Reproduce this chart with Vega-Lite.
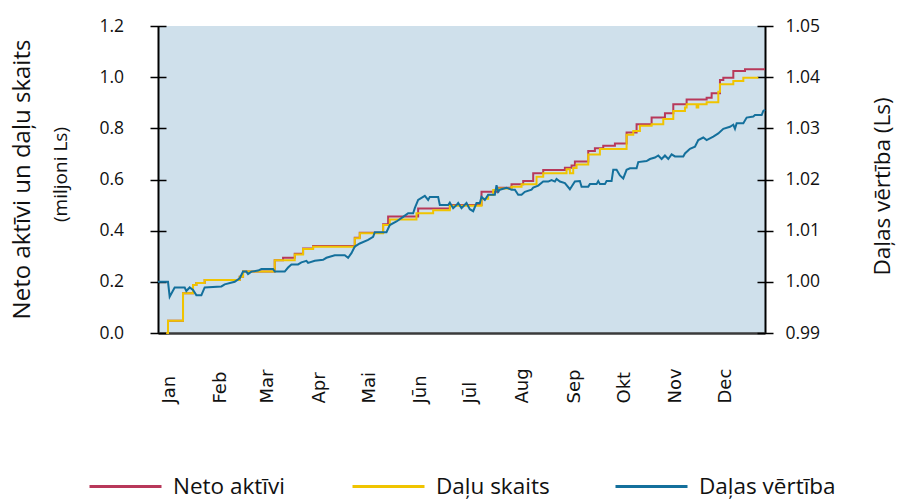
{
  "$schema": "https://vega.github.io/schema/vega-lite/v6.json",
  "width": 607,
  "height": 307,
  "autosize": {"type": "none"},
  "padding": {"left": 158, "top": 26, "right": 138, "bottom": 168},
  "background": "white",
  "config": {
    "view": {"fill": "#cfe0eb", "stroke": null},
    "font": "Open Sans",
    "axis": {"labelColor": "#111111", "titleColor": "#111111", "tickColor": "#000000", "domainColor": "#000000", "grid": false, "titleFontWeight": "normal"},
    "legend": {"labelFont": "Open Sans", "labelColor": "#111111"}
  },
  "datasets": {
    "neto": [
      {"date": "2009-01-06", "value": 0},
      {"date": "2009-01-07", "value": 0.048},
      {"date": "2009-01-16", "value": 0.155},
      {"date": "2009-01-22", "value": 0.188},
      {"date": "2009-01-24", "value": 0.195},
      {"date": "2009-01-29", "value": 0.207},
      {"date": "2009-02-19", "value": 0.22},
      {"date": "2009-02-21", "value": 0.24},
      {"date": "2009-03-12", "value": 0.284},
      {"date": "2009-03-17", "value": 0.294},
      {"date": "2009-03-24", "value": 0.31},
      {"date": "2009-03-29", "value": 0.33},
      {"date": "2009-04-04", "value": 0.34},
      {"date": "2009-04-29", "value": 0.372},
      {"date": "2009-05-02", "value": 0.392},
      {"date": "2009-05-16", "value": 0.425},
      {"date": "2009-05-19", "value": 0.455},
      {"date": "2009-06-06", "value": 0.487},
      {"date": "2009-06-25", "value": 0.5},
      {"date": "2009-07-14", "value": 0.552},
      {"date": "2009-07-24", "value": 0.568},
      {"date": "2009-08-01", "value": 0.581},
      {"date": "2009-08-08", "value": 0.594},
      {"date": "2009-08-14", "value": 0.624},
      {"date": "2009-08-20", "value": 0.637},
      {"date": "2009-09-02", "value": 0.646},
      {"date": "2009-09-06", "value": 0.655},
      {"date": "2009-09-08", "value": 0.67},
      {"date": "2009-09-16", "value": 0.711},
      {"date": "2009-09-20", "value": 0.722},
      {"date": "2009-09-25", "value": 0.732},
      {"date": "2009-10-02", "value": 0.741},
      {"date": "2009-10-09", "value": 0.784},
      {"date": "2009-10-15", "value": 0.816},
      {"date": "2009-10-24", "value": 0.842},
      {"date": "2009-11-01", "value": 0.859},
      {"date": "2009-11-06", "value": 0.894},
      {"date": "2009-11-14", "value": 0.913},
      {"date": "2009-11-26", "value": 0.92},
      {"date": "2009-11-29", "value": 0.937},
      {"date": "2009-12-04", "value": 0.989},
      {"date": "2009-12-06", "value": 0.998},
      {"date": "2009-12-12", "value": 1.024},
      {"date": "2009-12-19", "value": 1.031},
      {"date": "2009-12-31", "value": 1.031}
    ],
    "dalu": [
      {"date": "2009-01-06", "value": 0},
      {"date": "2009-01-07", "value": 0.048},
      {"date": "2009-01-16", "value": 0.155},
      {"date": "2009-01-22", "value": 0.188},
      {"date": "2009-01-24", "value": 0.195},
      {"date": "2009-01-29", "value": 0.207},
      {"date": "2009-02-19", "value": 0.22},
      {"date": "2009-02-21", "value": 0.24},
      {"date": "2009-03-12", "value": 0.284},
      {"date": "2009-03-24", "value": 0.307},
      {"date": "2009-03-29", "value": 0.328},
      {"date": "2009-04-04", "value": 0.337},
      {"date": "2009-04-29", "value": 0.37},
      {"date": "2009-05-02", "value": 0.39},
      {"date": "2009-05-16", "value": 0.422},
      {"date": "2009-05-20", "value": 0.444},
      {"date": "2009-06-05", "value": 0.468},
      {"date": "2009-06-15", "value": 0.48},
      {"date": "2009-06-25", "value": 0.497},
      {"date": "2009-07-14", "value": 0.525},
      {"date": "2009-07-18", "value": 0.539},
      {"date": "2009-07-21", "value": 0.559},
      {"date": "2009-07-24", "value": 0.565},
      {"date": "2009-08-01", "value": 0.572},
      {"date": "2009-08-07", "value": 0.581},
      {"date": "2009-08-16", "value": 0.611},
      {"date": "2009-08-20", "value": 0.624},
      {"date": "2009-09-03", "value": 0.64},
      {"date": "2009-09-05", "value": 0.624},
      {"date": "2009-09-07", "value": 0.645},
      {"date": "2009-09-09", "value": 0.659},
      {"date": "2009-09-16", "value": 0.698},
      {"date": "2009-09-23", "value": 0.719},
      {"date": "2009-10-09", "value": 0.775},
      {"date": "2009-10-13", "value": 0.79},
      {"date": "2009-10-17", "value": 0.81},
      {"date": "2009-10-24", "value": 0.816},
      {"date": "2009-10-31", "value": 0.836},
      {"date": "2009-11-06", "value": 0.868},
      {"date": "2009-11-13", "value": 0.881},
      {"date": "2009-11-14", "value": 0.894},
      {"date": "2009-11-20", "value": 0.881},
      {"date": "2009-11-21", "value": 0.894},
      {"date": "2009-11-26", "value": 0.902},
      {"date": "2009-12-03", "value": 0.943},
      {"date": "2009-12-04", "value": 0.972},
      {"date": "2009-12-12", "value": 0.985},
      {"date": "2009-12-18", "value": 0.998},
      {"date": "2009-12-27", "value": 0.998}
    ],
    "vertiba": [
      {"date": "2009-01-01", "value": 1.0},
      {"date": "2009-01-07", "value": 1.0},
      {"date": "2009-01-08", "value": 0.9971},
      {"date": "2009-01-11", "value": 0.9989},
      {"date": "2009-01-17", "value": 0.9989},
      {"date": "2009-01-18", "value": 0.9982},
      {"date": "2009-01-20", "value": 0.9989},
      {"date": "2009-01-22", "value": 0.9984},
      {"date": "2009-01-24", "value": 0.9974},
      {"date": "2009-01-27", "value": 0.9974},
      {"date": "2009-01-29", "value": 0.9989},
      {"date": "2009-02-08", "value": 0.9991},
      {"date": "2009-02-10", "value": 0.9995},
      {"date": "2009-02-16", "value": 1.0},
      {"date": "2009-02-19", "value": 1.0007},
      {"date": "2009-02-21", "value": 1.002},
      {"date": "2009-02-23", "value": 1.002},
      {"date": "2009-02-24", "value": 1.0015},
      {"date": "2009-02-26", "value": 1.002},
      {"date": "2009-03-02", "value": 1.0022},
      {"date": "2009-03-04", "value": 1.0025},
      {"date": "2009-03-11", "value": 1.0025},
      {"date": "2009-03-12", "value": 1.002},
      {"date": "2009-03-18", "value": 1.002},
      {"date": "2009-03-20", "value": 1.0028},
      {"date": "2009-03-22", "value": 1.0034},
      {"date": "2009-03-26", "value": 1.0034},
      {"date": "2009-03-28", "value": 1.0038},
      {"date": "2009-03-31", "value": 1.0041},
      {"date": "2009-04-01", "value": 1.0037},
      {"date": "2009-04-05", "value": 1.0041},
      {"date": "2009-04-10", "value": 1.0043},
      {"date": "2009-04-12", "value": 1.0047},
      {"date": "2009-04-17", "value": 1.0052},
      {"date": "2009-04-23", "value": 1.0052},
      {"date": "2009-04-25", "value": 1.0047},
      {"date": "2009-04-27", "value": 1.0056},
      {"date": "2009-04-29", "value": 1.0069},
      {"date": "2009-05-02", "value": 1.0075},
      {"date": "2009-05-07", "value": 1.0082},
      {"date": "2009-05-10", "value": 1.0088},
      {"date": "2009-05-11", "value": 1.0097},
      {"date": "2009-05-18", "value": 1.0097},
      {"date": "2009-05-20", "value": 1.0111},
      {"date": "2009-05-24", "value": 1.0118},
      {"date": "2009-05-28", "value": 1.0127},
      {"date": "2009-05-31", "value": 1.0134},
      {"date": "2009-06-03", "value": 1.0134},
      {"date": "2009-06-04", "value": 1.0144},
      {"date": "2009-06-06", "value": 1.016},
      {"date": "2009-06-10", "value": 1.0168},
      {"date": "2009-06-12", "value": 1.016},
      {"date": "2009-06-13", "value": 1.0166},
      {"date": "2009-06-18", "value": 1.0166},
      {"date": "2009-06-19", "value": 1.015},
      {"date": "2009-06-24", "value": 1.015},
      {"date": "2009-06-25", "value": 1.0155},
      {"date": "2009-06-27", "value": 1.0144},
      {"date": "2009-06-29", "value": 1.015},
      {"date": "2009-06-30", "value": 1.0154},
      {"date": "2009-07-02", "value": 1.0144},
      {"date": "2009-07-05", "value": 1.0154},
      {"date": "2009-07-07", "value": 1.0142},
      {"date": "2009-07-09", "value": 1.0138},
      {"date": "2009-07-11", "value": 1.0154},
      {"date": "2009-07-13", "value": 1.0154},
      {"date": "2009-07-14", "value": 1.0166},
      {"date": "2009-07-16", "value": 1.016},
      {"date": "2009-07-18", "value": 1.017},
      {"date": "2009-07-22", "value": 1.017},
      {"date": "2009-07-23", "value": 1.0189},
      {"date": "2009-07-24", "value": 1.0176},
      {"date": "2009-07-25", "value": 1.018},
      {"date": "2009-07-29", "value": 1.0184},
      {"date": "2009-08-01", "value": 1.018},
      {"date": "2009-08-03", "value": 1.018},
      {"date": "2009-08-05", "value": 1.017},
      {"date": "2009-08-07", "value": 1.017},
      {"date": "2009-08-09", "value": 1.0176},
      {"date": "2009-08-13", "value": 1.018},
      {"date": "2009-08-14", "value": 1.0184},
      {"date": "2009-08-17", "value": 1.0188},
      {"date": "2009-08-20", "value": 1.0196},
      {"date": "2009-08-23", "value": 1.0196},
      {"date": "2009-08-25", "value": 1.0199},
      {"date": "2009-08-27", "value": 1.0196},
      {"date": "2009-08-28", "value": 1.0201},
      {"date": "2009-08-30", "value": 1.0196},
      {"date": "2009-09-02", "value": 1.0193},
      {"date": "2009-09-05", "value": 1.0181},
      {"date": "2009-09-08", "value": 1.0196},
      {"date": "2009-09-11", "value": 1.0197},
      {"date": "2009-09-12", "value": 1.0186},
      {"date": "2009-09-16", "value": 1.0186},
      {"date": "2009-09-17", "value": 1.0191},
      {"date": "2009-09-21", "value": 1.0191},
      {"date": "2009-09-22", "value": 1.0197},
      {"date": "2009-09-23", "value": 1.0191},
      {"date": "2009-09-26", "value": 1.0191},
      {"date": "2009-09-27", "value": 1.0197},
      {"date": "2009-09-30", "value": 1.0197},
      {"date": "2009-10-01", "value": 1.0219},
      {"date": "2009-10-03", "value": 1.0219},
      {"date": "2009-10-05", "value": 1.0208},
      {"date": "2009-10-07", "value": 1.0202},
      {"date": "2009-10-09", "value": 1.0219},
      {"date": "2009-10-11", "value": 1.0222},
      {"date": "2009-10-15", "value": 1.0222},
      {"date": "2009-10-16", "value": 1.0234},
      {"date": "2009-10-21", "value": 1.0236},
      {"date": "2009-10-23", "value": 1.024},
      {"date": "2009-10-26", "value": 1.0243},
      {"date": "2009-10-28", "value": 1.0247},
      {"date": "2009-10-30", "value": 1.024},
      {"date": "2009-11-01", "value": 1.0247},
      {"date": "2009-11-03", "value": 1.024},
      {"date": "2009-11-05", "value": 1.0249},
      {"date": "2009-11-07", "value": 1.0245},
      {"date": "2009-11-12", "value": 1.0245},
      {"date": "2009-11-13", "value": 1.0251},
      {"date": "2009-11-16", "value": 1.026},
      {"date": "2009-11-19", "value": 1.0264},
      {"date": "2009-11-21", "value": 1.0277},
      {"date": "2009-11-24", "value": 1.0282},
      {"date": "2009-11-26", "value": 1.0277},
      {"date": "2009-11-30", "value": 1.0284},
      {"date": "2009-12-03", "value": 1.029},
      {"date": "2009-12-06", "value": 1.0299},
      {"date": "2009-12-10", "value": 1.0303},
      {"date": "2009-12-12", "value": 1.0307},
      {"date": "2009-12-13", "value": 1.0299},
      {"date": "2009-12-14", "value": 1.031},
      {"date": "2009-12-18", "value": 1.031},
      {"date": "2009-12-20", "value": 1.0321},
      {"date": "2009-12-24", "value": 1.0323},
      {"date": "2009-12-25", "value": 1.0326},
      {"date": "2009-12-29", "value": 1.0326},
      {"date": "2009-12-30", "value": 1.0334},
      {"date": "2009-12-31", "value": 1.0336}
    ]
  },
  "layer": [
    {
      "data": {"name": "neto"},
      "mark": {"type": "line", "interpolate": "step-after", "strokeWidth": 2},
      "encoding": {
        "x": {
          "field": "date", "type": "temporal",
          "scale": {"type": "utc", "domain": [{"year": 2009, "month": 1, "date": 1, "utc": true}, {"year": 2009, "month": 12, "date": 31, "utc": true}]},
          "axis": {
            "orient": "bottom",
            "values": [
              {"year": 2009, "month": 1, "date": 1, "utc": true},
              {"year": 2009, "month": 2, "date": 1, "utc": true},
              {"year": 2009, "month": 3, "date": 1, "utc": true},
              {"year": 2009, "month": 4, "date": 1, "utc": true},
              {"year": 2009, "month": 5, "date": 1, "utc": true},
              {"year": 2009, "month": 6, "date": 1, "utc": true},
              {"year": 2009, "month": 7, "date": 1, "utc": true},
              {"year": 2009, "month": 8, "date": 1, "utc": true},
              {"year": 2009, "month": 9, "date": 1, "utc": true},
              {"year": 2009, "month": 10, "date": 1, "utc": true},
              {"year": 2009, "month": 11, "date": 1, "utc": true},
              {"year": 2009, "month": 12, "date": 1, "utc": true}
            ],
            "labelExpr": "['Jan','Feb','Mar','Apr','Mai','Jūn','Jūl','Aug','Sep','Okt','Nov','Dec'][utcmonth(datum.value)]",
            "ticks": false, "tickSize": 0,
            "domain": true, "domainColor": "#3a3a3a", "domainWidth": 2.5,
            "labelAngle": 270, "labelAlign": "left", "labelBaseline": "middle",
            "labelPadding": 70, "labelOffset": 11,
            "labelFont": "DejaVu Sans", "labelFontSize": 18,
            "labelOverlap": false, "labelBound": false, "labelFlush": false,
            "title": null
          }
        },
        "y": {
          "field": "value", "type": "quantitative",
          "scale": {"domain": [0, 1.2], "nice": false, "zero": false},
          "axis": {
            "orient": "left", "offset": -8, "tickSize": 16, "tickWidth": 1.5, "domain": false,
            "values": [0, 0.2, 0.4, 0.6, 0.8, 1.0, 1.2], "format": ".1f",
            "labelAlign": "left", "labelPadding": 51, "labelFontSize": 17.5,
            "title": "Neto aktīvi un daļu skaits", "titleFontSize": 24,
            "titleAngle": 270, "titleX": -144, "titleY": 153,
            "titleAlign": "center", "titleBaseline": "middle"
          }
        },
        "color": {
          "datum": "Neto aktīvi", "type": "nominal",
          "scale": {"domain": ["Neto aktīvi", "Daļu skaits", "Daļas vērtība"], "range": ["#b8385a", "#f0c400", "#14709c"]},
          "legend": {
            "orient": "none", "legendX": -70, "legendY": 423, "direction": "horizontal", "columns": 3,
            "symbolType": "stroke", "symbolSize": 5184, "symbolStrokeWidth": 3,
            "labelFontSize": 22.5, "labelOffset": 10, "columnPadding": 36, "gridAlign": "all",
            "title": null, "padding": 0
          }
        }
      }
    },
    {
      "data": {"name": "dalu"},
      "mark": {"type": "line", "interpolate": "step-after", "strokeWidth": 2},
      "encoding": {
        "x": {"field": "date", "type": "temporal", "axis": null},
        "y": {
          "field": "value", "type": "quantitative",
          "scale": {"domain": [0, 1.2], "nice": false, "zero": false},
          "axis": {
            "orient": "left", "domain": false, "ticks": false, "labels": false,
            "title": "(miljoni Ls)", "titleFontSize": 19,
            "titleAngle": 270, "titleX": -98, "titleY": 148,
            "titleAlign": "center", "titleBaseline": "middle"
          }
        },
        "color": {"datum": "Daļu skaits", "type": "nominal"}
      }
    },
    {
      "data": {"name": "vertiba"},
      "mark": {"type": "line", "strokeWidth": 2},
      "encoding": {
        "x": {
          "field": "date", "type": "temporal",
          "axis": {
            "orient": "top",
            "values": [{"year": 2009, "month": 1, "date": 1, "utc": true}, {"year": 2009, "month": 12, "date": 31, "utc": true}],
            "grid": true, "gridColor": "#000000", "gridWidth": 2, "gridOpacity": 1,
            "ticks": false, "labels": false, "domain": false, "title": null
          }
        },
        "y": {
          "field": "value", "type": "quantitative",
          "scale": {"domain": [0.99, 1.05], "nice": false, "zero": false},
          "axis": {
            "orient": "right", "offset": -8, "tickSize": 16, "tickWidth": 1.5, "domain": false,
            "values": [0.99, 1.0, 1.01, 1.02, 1.03, 1.04, 1.05], "format": ".2f",
            "labelAlign": "left", "labelPadding": 12, "labelFontSize": 17.5,
            "title": "Daļas vērtība (Ls)", "titleFontSize": 22.5,
            "titleAngle": 270, "titleX": 125, "titleY": 160,
            "titleAlign": "center", "titleBaseline": "middle"
          }
        },
        "color": {"datum": "Daļas vērtība", "type": "nominal"}
      }
    }
  ],
  "resolve": {
    "scale": {"y": "independent", "x": "shared", "color": "shared"},
    "axis": {"x": "independent", "y": "independent"}
  }
}
